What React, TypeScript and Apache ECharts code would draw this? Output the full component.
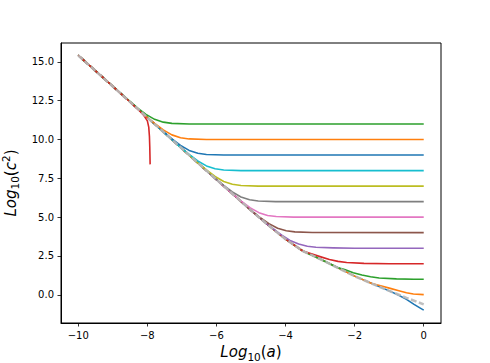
import React, { useEffect, useRef } from 'react';
import * as echarts from 'echarts';

// Reference (grey dashed) curve
const refX = [-10, -9, -8, -7, -6.5, -6, -5.5, -5, -4.5, -4, -3.5, -3, -2.5, -2, -1.5, -1, -0.5, 0];
const refY = [15.42, 13.42, 11.42, 9.42, 8.42, 7.42, 6.43, 5.44, 4.48, 3.58, 2.82, 2.3, 1.75, 1.2, 0.72, 0.25, -0.2, -0.62];

// Tick values
const xTicks = [-10, -8, -6, -4, -2, 0];
const yTicks = [0, 2.5, 5, 7.5, 10, 12.5, 15];

// Curve colours in drawing order
const curveColors = [
  '#1f77b4', '#ff7f0e', '#2ca02c', '#d62728', '#9467bd', '#8c564b', '#e377c2',
  '#7f7f7f', '#bcbd22', '#17becf', '#1f77b4', '#ff7f0e', '#2ca02c', '#d62728',
];

// Each curve follows the reference curve, then these points (knee + plateau)
const kneeX = [
  [-0.75, -0.5, -0.28, -0.1, 0],
  [-1.22, -0.97, -0.72, -0.5, -0.3, 0],
  [-2.29, -2.04, -1.79, -1.54, -1.29, -0.79, -0.29, 0],
  [-3.23, -2.98, -2.73, -2.48, -2.23, -1.73, -1.0, 0],
  [-4.12, -3.87, -3.62, -3.37, -3.12, -2.62, -2.0, 0],
  [-4.73, -4.48, -4.23, -3.98, -3.73, -3.23, 0],
  [-5.27, -5.02, -4.77, -4.52, -4.27, -3.77, 0],
  [-5.79, -5.54, -5.29, -5.04, -4.79, -4.29, 0],
  [-6.29, -6.04, -5.79, -5.54, -5.29, -4.79, 0],
  [-6.79, -6.54, -6.29, -6.04, -5.79, -5.29, 0],
  [-7.29, -7.04, -6.79, -6.54, -6.29, -5.79, 0],
  [-7.79, -7.54, -7.29, -7.04, -6.79, -6.29, 0],
  [-8.29, -8.04, -7.79, -7.54, -7.29, -6.79, 0],
  [-8.5, -8.25, -8.1, -8.0, -7.96, -7.94, -7.93, -7.92],
];
const kneeY = [
  [0.0, -0.3, -0.62, -0.86, -0.99],
  [0.57, 0.41, 0.26, 0.13, 0.05, 0.01],
  [1.62, 1.42, 1.27, 1.16, 1.08, 1.02, 1.0, 1.0],
  [2.62, 2.44, 2.27, 2.15, 2.08, 2.02, 2.0, 2.0],
  [3.86, 3.5, 3.27, 3.13, 3.06, 3.02, 3.0, 3.0],
  [4.96, 4.58, 4.28, 4.12, 4.05, 4.01, 4.0],
  [6.02, 5.6, 5.29, 5.11, 5.04, 5.0, 5.0],
  [7.04, 6.62, 6.3, 6.12, 6.04, 6.0, 6.0],
  [8.04, 7.62, 7.3, 7.12, 7.04, 7.0, 7.0],
  [9.04, 8.62, 8.3, 8.12, 8.04, 8.0, 8.0],
  [10.04, 9.62, 9.3, 9.12, 9.04, 9.0, 9.0],
  [11.04, 10.62, 10.3, 10.12, 10.04, 10.0, 10.0],
  [12.04, 11.62, 11.3, 11.12, 11.04, 11.0, 11.0],
  [12.42, 11.9, 11.55, 11.2, 10.8, 10.2, 9.5, 8.4],
];

const FONT = 'DejaVu Sans';

function buildCurve(kx: number[], ky: number[]): number[][] {
  const pts: number[][] = [];
  for (let i = 0; i < refX.length; i++) {
    if (refX[i] < kx[0] - 1e-9) pts.push([refX[i], refY[i]]);
  }
  for (let i = 0; i < kx.length; i++) pts.push([kx[i], ky[i]]);
  return pts;
}

const minus = (v: number, digits?: number) => {
  const s = digits !== undefined ? Math.abs(v).toFixed(digits) : String(Math.abs(v));
  return v < 0 ? '\u2212' + s : s;
};

const nameRich = {
  i: { fontFamily: FONT, fontSize: 15, fontStyle: 'italic', color: '#000' },
  n: { fontFamily: FONT, fontSize: 15, color: '#000' },
  s: { fontFamily: FONT, fontSize: 10.5, color: '#000', padding: [9, 0, 0, 0] },
  p: { fontFamily: FONT, fontSize: 10.5, color: '#000', padding: [0, 0, 10, 0] },
};

export default function App() {
  const ref = useRef<HTMLDivElement>(null);
  useEffect(() => {
    if (!ref.current) return;
    const chart = echarts.init(ref.current, undefined, { renderer: 'svg' });
    const series: any[] = curveColors.map((c, k) => ({
      type: 'line',
      data: buildCurve(kneeX[k], kneeY[k]),
      showSymbol: false,
      smooth: false,
      lineStyle: { color: c, width: 1.6, join: 'round' },
      itemStyle: { color: c },
      z: 2,
    }));
    series.push({
      type: 'line',
      data: refX.map((x, i) => [x, refY[i]]),
      showSymbol: false,
      smooth: false,
      lineStyle: { color: 'rgba(185,185,185,0.9)', width: 2.6, type: [6, 2.5] },
      z: 3,
    });
    chart.setOption({
      animation: false,
      grid: {
        left: 61, right: 49, top: 43, bottom: 40,
        show: true, borderColor: '#000', borderWidth: 1,
        outerBoundsMode: 'none',
      },
      xAxis: {
        type: 'value',
        min: -10.5,
        max: 0.5,
        splitLine: { show: false },
        axisLine: { show: true, onZero: false, lineStyle: { color: '#000', width: 1 } },
        axisTick: { show: true, customValues: xTicks, length: 3.5, lineStyle: { color: '#000', width: 0.8 } },
        axisLabel: {
          customValues: xTicks,
          formatter: (v: number) => minus(v),
          margin: 7,
          color: '#000',
          fontSize: 10,
          fontFamily: FONT,
        },
        name: '{i|Log}{s|10}{n|(}{i|a}{n|)}',
        nameLocation: 'middle',
        nameGap: 19,
        nameTextStyle: { fontFamily: FONT, fontSize: 15, color: '#000', rich: nameRich },
      },
      yAxis: {
        type: 'value',
        min: -1.82,
        max: 16.22,
        splitLine: { show: false },
        axisLine: { show: true, onZero: false, lineStyle: { color: '#000', width: 1 } },
        axisTick: { show: true, customValues: yTicks, length: 3.5, lineStyle: { color: '#000', width: 0.8 } },
        axisLabel: {
          customValues: yTicks,
          formatter: (v: number) => minus(v, 1),
          margin: 7,
          color: '#000',
          fontSize: 10,
          fontFamily: FONT,
        },
        name: '{i|Log}{s|10}{n|(}{i|c}{p|2}{n|)}',
        nameLocation: 'middle',
        nameRotate: 90,
        nameGap: 28,
        nameTextStyle: { fontFamily: FONT, fontSize: 15, color: '#000', rich: nameRich },
      },
      series,
    });
    return () => chart.dispose();
  }, []);
  return (
    <div
      ref={ref}
      style={{ position: 'fixed', left: 0, top: 0, width: 490, height: 363, background: '#fff' }}
    />
  );
}
